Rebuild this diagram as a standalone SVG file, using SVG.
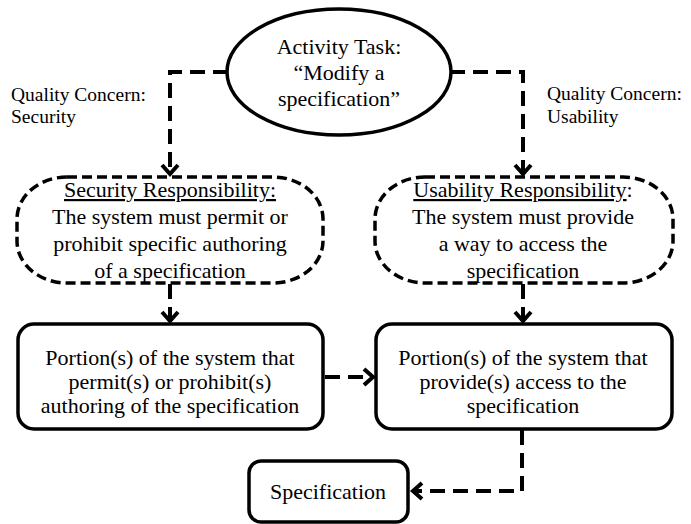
<svg xmlns="http://www.w3.org/2000/svg" width="691" height="524" viewBox="0 0 691 524">
  <style>
    .main { font-size: 22px; text-anchor: middle; }
    .label { font-size: 19.5px; }
    .solid { fill: #fff; stroke: #000; stroke-width: 3.5; }
    .dashed-node { fill: #fff; stroke: #000; stroke-width: 3.5; stroke-dasharray: 10 5; }
    .link { fill: none; stroke: #000; stroke-width: 4; stroke-dasharray: 15 8; }
    .ul { text-decoration: underline; }
  </style>
  <defs>
    <!-- open chevron arrowhead shared by all connectors -->
    <marker id="chevron" markerUnits="userSpaceOnUse" markerWidth="24" markerHeight="24" viewBox="-14 -12 18 24" refX="0" refY="0" orient="auto">
      <path d="M-10,-8 L-1,0 L-10,8" fill="none" stroke="#000" stroke-width="4" stroke-dasharray="none" stroke-linejoin="miter"/>
    </marker>
  </defs>

  <rect width="691" height="524" fill="#fff"/>

  <!-- connectors -->
  <g id="connectors">
    <path class="link" d="M228,72 H170 V175" marker-end="url(#chevron)"/>
    <path class="link" d="M450,72 H523 V175" marker-end="url(#chevron)"/>
    <path class="link" d="M170,284 V322" marker-end="url(#chevron)"/>
    <path class="link" d="M523,284 V322" marker-end="url(#chevron)"/>
    <path class="link" d="M325,377 H374" marker-end="url(#chevron)"/>
    <path class="link" d="M522,430 V491 H412" marker-end="url(#chevron)"/>
  </g>

  <g font-family="Liberation Serif, Tinos, DejaVu Serif, serif" fill="#000">
    <!-- edge labels -->
    <g id="concern-security">
      <text class="label" x="11" y="101">Quality Concern:</text>
      <text class="label" x="11" y="123">Security</text>
    </g>
    <g id="concern-usability">
      <text class="label" x="547" y="100">Quality Concern:</text>
      <text class="label" x="547" y="123">Usability</text>
    </g>

    <!-- activity task -->
    <g id="activity-task">
      <ellipse class="solid" cx="339" cy="72" rx="112" ry="63"/>
      <text class="main" x="339" y="54">Activity Task:</text>
      <text class="main" x="339" y="80">“Modify a</text>
      <text class="main" x="339" y="106">specification”</text>
    </g>

    <!-- responsibilities -->
    <g id="security-responsibility">
      <rect class="dashed-node" x="17" y="177" width="306" height="106" rx="50" ry="42"/>
      <text class="main" x="170" y="197"><tspan class="ul">Security Responsibility:</tspan></text>
      <text class="main" x="170" y="224">The system must permit or</text>
      <text class="main" x="170" y="251">prohibit specific authoring</text>
      <text class="main" x="170" y="278">of a specification</text>
    </g>
    <g id="usability-responsibility">
      <rect class="dashed-node" x="375" y="177" width="298" height="106" rx="50" ry="42"/>
      <text class="main" x="523" y="197"><tspan class="ul">Usability Responsibility</tspan>:</text>
      <text class="main" x="523" y="224">The system must provide</text>
      <text class="main" x="523" y="251">a way to access the</text>
      <text class="main" x="523" y="278">specification</text>
    </g>

    <!-- system portions -->
    <g id="security-portion">
      <rect class="solid" x="18" y="324" width="305" height="105" rx="16"/>
      <text class="main" x="170" y="365">Portion(s) of the system that</text>
      <text class="main" x="170" y="389">permit(s) or prohibit(s)</text>
      <text class="main" x="170" y="413">authoring of the specification</text>
    </g>
    <g id="usability-portion">
      <rect class="solid" x="376" y="324" width="296" height="105" rx="16"/>
      <text class="main" x="523" y="365">Portion(s) of the system that</text>
      <text class="main" x="523" y="389">provide(s) access to the</text>
      <text class="main" x="523" y="413">specification</text>
    </g>

    <!-- artefact -->
    <g id="specification">
      <rect class="solid" x="249" y="461" width="159" height="61" rx="12"/>
      <text class="main" x="328" y="499">Specification</text>
    </g>
  </g>
</svg>
